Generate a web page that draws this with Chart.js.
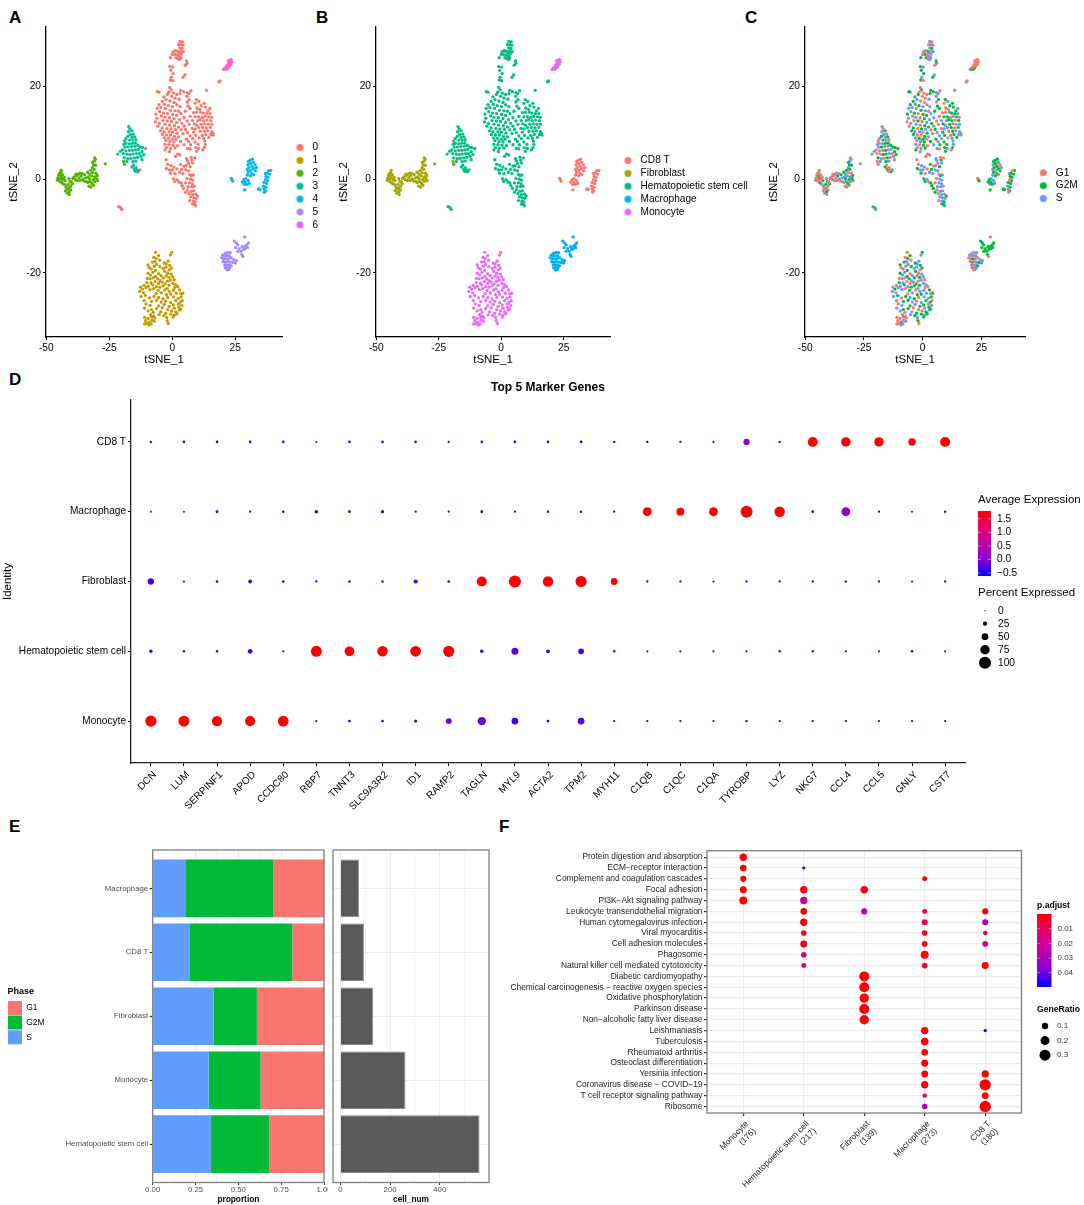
<!DOCTYPE html>
<html><head><meta charset="utf-8">
<style>
html,body{margin:0;padding:0;background:#fff;width:1084px;height:1205px;overflow:hidden}
canvas{position:absolute;display:block}
.tag{position:absolute;font:bold 17px/17px "Liberation Sans",Arial,sans-serif;color:#000}
</style>
<script src="https://cdn.jsdelivr.net/npm/chart.js@4"></script>
</head><body>
<div class="tag" style="left:9px;top:9px">A</div>
<div class="tag" style="left:316px;top:9px">B</div>
<div class="tag" style="left:745px;top:9px">C</div>
<div class="tag" style="left:9px;top:371px">D</div>
<div class="tag" style="left:9px;top:818px">E</div>
<div class="tag" style="left:499px;top:818px">F</div>
<script>
/* ---------- t-SNE embedding ---------- */
const cluster0=[[3,29.7],[4,29.6],[2.5,29],[3.6,29],[4.3,28.9],[3,28.3],[3.9,28.2],[3.3,27.6],[4.4,27.5],[0.4,27.5],[1.2,27.7],[2,27.6],[2.7,27.2],[3.6,27],[0,26.9],[1,26.9],[1.9,26.8],[2.8,26.5],[3.4,26.2],[-0.8,26.2],[1.5,26.2],[2.3,26],[3,25.8],[5.7,25.5],[5.9,25],[5.2,24.6],[-1,24.3],[0.2,24.2],[-0.6,23.5],[0.4,22.8],[-0.4,22],[0.2,21.3],[-0.8,21.4],[5,22.5],[4.3,22],[18.9,21.2],[18.5,21],[13.6,19.2],
[-1,19.8],[-0.4,19.3],[-1.4,18.8],[0.5,18.6],[-5.9,18.9],[-5.3,18.8],[1.8,18.3],[3.4,19.2],[4.5,18.9],[5.9,18.7],[7.4,19.1],[6.6,18.5],[3.1,18.5],[-0.2,17.9],[-1.9,18.3],[-3.3,17.8],[1.1,17.5],[2.7,17.3],[5.8,17.9],[6.7,17.2],[5.9,16.7],[9.6,17.2],[10.6,16.8],[9.1,16.4],[12.7,16.4],[11.5,15.9],[-2.5,17.2],[-0.9,16.9],[0.7,16.6],[-4,16.8],[-3.1,16.2],[-1.6,15.9],[0.1,15.7],[1.8,16.1],[3.1,15.7],[6.3,15.8],[7.1,15.3],[9.8,15.4],[10.9,15.1],[13.1,15.6],[14.9,15.3],[14.1,14.8],
[-5.3,16.1],[-4.5,15.5],[-2.7,15.3],[-0.7,14.9],[1.1,14.8],[2.5,14.7],[-6,15.3],[-5,14.6],[-3.5,14.3],[-1.9,14.2],[0.2,14],[1.7,13.8],[3.5,14.2],[5.1,14.7],[8.5,14.4],[9.7,14.5],[11.3,14.5],[12.3,14.3],[13.7,14.2],[15,14.2],[-6.5,14.1],[-4.3,13.7],[-2.9,13.4],[-1.1,13.3],[0.7,13.1],[2.9,12.9],[4.7,13.3],[7.1,13.6],[9.1,13.5],[10.5,13.5],[11.9,13.4],[13,13.6],[14.5,13.5],[15.6,13.4],[-6.1,13.2],[-3.7,12.7],[-2,12.6],[-0.3,12.5],[1.7,12.3],[3.8,12.1],[5.9,12.6],[8,12.7],[10.1,12.7],[11.1,12.9],[12.4,12.7],[13.8,12.8],[15.3,12.7],
[-6.7,12.4],[-5.1,12.1],[-2.9,11.9],[-1.1,11.7],[0.9,11.6],[2.5,11.3],[4.7,11.5],[6.7,11.9],[8.7,12],[9.7,11.7],[11.5,11.9],[12.9,12],[14.3,11.9],[15.7,11.9],[-5.7,11.5],[-4,11.1],[-2.1,11],[-0.5,10.9],[1.3,10.8],[3.5,10.7],[5.3,10.8],[7.9,11],[9.1,10.9],[10.5,11.2],[12.1,11.2],[13.5,11.1],[15.1,11.2],[-4.7,10.5],[-3.3,10.3],[-1.3,10.3],[0.1,10.2],[1.9,10],[4.3,9.9],[6.1,10.1],[8.5,10.2],[11.1,10.4],[12.7,10.4],[14.1,10.5],[15.7,10.3],[-3.9,9.7],[-2.3,9.6],[-0.7,9.6],[0.9,9.3],[2.5,9.2],[7.1,9.4],[9.3,9.5],[11.9,9.5],[13.3,9.7],[15.3,9.7],[16.1,10],[-3.1,9],[-1.5,8.9],[0.1,8.7],[1.5,8.7],[5.7,8.7],[8.1,8.8],[10.7,9],[12.5,8.9],[14.5,9.1],[16.3,9.6],
[-2.5,8.4],[-0.9,8.2],[0.7,8.1],[3.3,8.2],[6.5,8.2],[9.1,8.1],[12.9,8.3],[-2.9,7.6],[-1.3,7.5],[0.3,7.4],[2.1,7.3],[4.7,7.5],[7.3,7.5],[10.3,7.6],[13.1,7.6],[-2.3,6.9],[-0.7,6.7],[1.1,6.8],[6.1,6.7],[7.1,6.6],[9.3,6.9],[10.5,6.7],[12.7,6.9],[-2.9,6.4],[-1.1,6],[9.7,6.1],[12.1,6.4],[2.1,5.5],[3,5.3],[1.3,5],[7.5,4.8],[8.9,4.7],[5.7,4.5],[-10.6,6.7],[-12.9,2.1],[-20.5,-6],[-21.2,-5.8],[-20,-6.4],
[-2.5,4.3],[6,4.1],[7.8,4.2],[6.5,3.5],[8.1,3.6],[5.5,3],[7.1,2.8],[-1.8,3.3],[-0.5,3],[0.7,2.7],[3.3,3.3],[4.7,2.9],[-2.3,2.4],[-1.1,2.1],[0.1,2.1],[1.9,2.3],[3.7,2.2],[5.3,2.1],[6.5,1.9],[-0.7,1.4],[1.1,1.3],[2.9,1.6],[4.3,1.3],[6.9,1.1],[7.5,0.9],[8.3,1],[0.5,0.2],[1.9,0],[5.9,0.3],[7.3,0.1],[8.1,-0.1],[1,-0.4],[2.6,-0.5],[3.5,-0.7],[6.9,-0.7],[8,-0.9],[5.3,-0.7],[3.9,-1.3],[6.3,-1.5],[7.7,-1.5],[8.7,-1.4],[4.5,-1.9],[6.1,-2.2],[7.5,-2.5],[8.5,-2.4],[5.3,-2.7],[6.7,-3],[8.1,-3.2],[9.3,-3.1],[10,-3.5],[7.3,-3.7],[8.5,-3.9],[9.5,-4],[6.9,-4.5],[8.3,-4.6],[9.1,-4.8],[8,-5.2],[8.8,-5.3],[9.3,-5.6]];
const cluster1=[[-6.6,-15.6],[-0.2,-15.6],[-0.7,-16.2],[-5.4,-16.3],[-6.4,-16.9],[-7.3,-16.7],[-5,-17.3],[-6.8,-17.6],[-7.9,-17.7],[-1.6,-17.5],[-3.2,-17.9],[-2.4,-18.1],[-1,-18.4],[-6.2,-18.2],[-7.2,-18.6],[-9.6,-18.3],[-4.9,-18.7],[-3.6,-19.1],[-2.5,-18.8],[-1.2,-19.4],[-0.3,-19],[-8.3,-19.2],[-9.2,-18.9],[-6.6,-19.5],[-7.7,-19.9],[-3,-19.7],[-1.8,-20.1],[-0.4,-20.3],[-9.6,-20.1],[-8.6,-20.5],[-5.4,-20.2],[-4.4,-20.6],[-6.6,-20.8],[-2.4,-20.7],[-1.3,-21],[0.2,-20.9],[-9.9,-21.2],[-8.8,-21.3],[-7.6,-21.1],[-5.8,-21.3],[-4.8,-21.7],[-3.6,-21.1],[-1.9,-21.8],[-0.7,-21.6],[0.8,-21.5],[-10,-22.1],[-8.4,-22.2],[-6.8,-21.9],[-5.4,-22.3],[-4,-22],[-2.8,-22.4],[-1.3,-22.7],[0.3,-22.3],[1.4,-22.6],[-11.2,-22.7],[-9.5,-22.9],[-7.8,-22.6],[-6.3,-23],[-4.9,-23.1],[-3.6,-22.8],[-2,-23.4],[1,-23.2],[2.2,-23],[-12.6,-23.1],[-11.8,-23.5],[-10.4,-23.2],[-8.8,-23.6],[-7.4,-23.4],[-5.6,-23.8],[-3,-23.7],[-1.2,-24],[0.4,-23.8],[2.9,-23.7],[-12.9,-24],[-11.4,-24.3],[-6.4,-24.5],[-4.4,-24.3],[-2.3,-24.7],[-0.6,-24.6],[1.6,-24.4],[3.4,-24.5],[4.2,-24.4],
[-12.4,-25.1],[-10.6,-24.9],[-9,-25.4],[-7.2,-25.1],[-5.4,-25.3],[-3.6,-25.6],[-1.8,-25.3],[0.6,-25.2],[2.4,-25.5],[3.6,-25.2],[-11.2,-26],[-8.2,-26.2],[-6.2,-25.9],[-4.4,-26.3],[-2.6,-26.1],[-0.6,-26.4],[1.4,-26],[3.2,-26.3],[4,-26],[-10.4,-26.7],[-8.8,-27],[-5.4,-27.1],[-3.2,-26.8],[-1.2,-27.2],[0.4,-26.9],[2.4,-26.7],[3.8,-27],[-11,-27.6],[-8.2,-27.9],[-6.2,-27.7],[-4,-27.5],[-1.8,-27.9],[0.8,-27.6],[2.6,-27.4],[3.4,-27.8],[-9.6,-28.2],[-7.6,-28.5],[-4.6,-28.4],[-2.6,-28.7],[-0.2,-28.2],[1.4,-28.4],[2.8,-28],[-8.6,-29],[-7.4,-29.3],[-5.2,-29],[-3.4,-29.2],[-0.6,-28.9],[0.8,-29.1],[1.9,-28.8],[-11,-29.6],[-9.6,-29.8],[-8.2,-29.5],[-6.9,-29.7],[-2.2,-29.6],[0.4,-29.5],[-10.6,-30.3],[-9.2,-30.6],[-8,-30.2],[-7.2,-30.4],[-2,-30.3],[-11,-31],[-10,-30.9],[-9.2,-31.2],[-8.4,-31],[-1.6,-30.9]];
const cluster2=[[-45.4,0.4],[-45.1,1],[-45.6,-0.1],[-44.9,0.1],[-44.4,0.8],[-44.2,1.5],[-44,2],[-44.6,1.4],[-44.5,-0.4],[-43.9,0.3],[-43.5,1],[-43.9,-0.6],[-43.2,0],[-43.4,-0.9],[-42.8,-1],[-42.5,-0.2],[-42.8,0.5],[-42.2,-1.5],[-42.4,-2.4],[-41.8,-2],[-41.3,-1],[-41.1,-1.8],[-40.9,-2.6],[-41.7,-2.9],[-40.8,-3.2],[-40.3,-1.4],[-40.5,-0.4],[-41,0.2],[-40,-0.5],[-39.6,-0.9],[-40.3,-2.2],[-39.5,0.3],[-38.9,0.6],[-38.4,0],[-38,0.9],[-37.6,-0.2],[-37.2,1.2],[-37,0.4],[-36.5,-0.2],[-36.2,0.8],[-35.8,1.3],[-35.5,0.1],[-35,-0.3],[-34.8,1.1],[-34.3,0.4],[-34.1,-0.4],[-38.2,1.2],[-36.6,1.4],[-33.6,1.6],[-33.4,0.6],[-33.5,-0.6],[-33,-1.4],[-32.9,0.2],[-32.8,1.2],[-32.4,2],[-32.6,-0.4],[-32.3,-1.6],[-32,0.8],[-31.9,-0.8],[-31.7,2.6],[-31.6,1.5],[-31.4,0],[-31.3,-1.2],[-31.2,3.2],[-31,2.2],[-30.8,0.6],[-30.7,-0.4],[-30.5,4.4],[-30.9,4],[-30.3,1.4],[-30.1,0.2],[-29.8,0.9],[-29.6,-0.2],[-31.6,3.7],[-30.4,3.1],[-30.8,4.7],[-26.6,3.4],[-19.3,3.9]];
const cluster3=[[-17.3,11.4],[-16.8,10.9],[-16,10.5],[-17.4,10.3],[-15.4,9.8],[-16.6,9.7],[-14.9,9.2],[-16,9.1],[-17.6,9.3],[-14.4,8.6],[-15.6,8.5],[-16.9,8.5],[-18.4,8.8],[-19,8.3],[-14.6,7.9],[-15.8,7.8],[-17,7.7],[-18.4,7.8],[-19.2,7.6],[-13.6,7.4],[-14.8,7.2],[-16.2,7.1],[-17.6,7],[-18.8,7],[-12.6,7],[-11.8,6.9],[-13.4,6.5],[-14.6,6.4],[-15.8,6.3],[-17,6.3],[-18.4,6.2],[-19.8,6.4],[-20.6,6.1],[-12,6],[-13,5.6],[-14.2,5.6],[-15.6,5.5],[-16.8,5.4],[-18,5.5],[-19.4,5.6],[-21.6,5.5],[-11.3,5.4],[-12.4,5],[-13.8,4.8],[-15,4.7],[-16.4,4.6],[-17.6,4.5],[-19,4.7],[-12,4.3],[-14.4,4],[-15.6,3.9],[-18,3.9],[-19,3.3],[-15.4,3.1],[-16,2.7],[-14.4,2.6],[-15,2.2],[-14,2.1],[-13.2,2],[-14.6,1.8],[-13.6,1.7]];
const cluster4=[[31.8,4.4],[31,4.2],[30.2,3.9],[32.2,3.7],[31,3.5],[30,3.2],[32.9,3.2],[31.6,2.9],[30.4,2.6],[33.4,2.6],[32.2,2.4],[29.8,2.2],[31.2,2],[33,1.9],[30.2,1.6],[31.6,1.3],[29.8,1],[31,0.8],[32.3,1.1],[29.2,0.2],[28.4,0],[30.2,-0.2],[29,-0.6],[27.8,-0.5],[28.6,-1],[29.6,-1],[30.6,-0.8],[28.7,-2.2],[39.1,2],[38.2,1.9],[37.6,1.4],[38.6,1.2],[37.2,0.7],[36.9,1.3],[38,0.5],[37,0],[37.8,-0.2],[36.4,-0.6],[37.4,-0.8],[36.2,-1.4],[37.2,-1.6],[36.4,-2],[37,-2.4],[36.6,-2.7],[34.2,-2],[34.8,-2.1],[23.4,0.3],[23.7,0],[24,-0.3]];
const cluster5=[[21,-15.8],[22,-15.6],[23,-15.7],[20,-16.2],[20.8,-16.4],[21.7,-16.3],[22.6,-16.4],[19.6,-16.8],[20.4,-17],[21.3,-17],[22.3,-17],[23.4,-16.8],[24.4,-17.2],[25.4,-17.4],[20.2,-17.6],[21,-17.7],[22,-17.6],[23,-17.7],[24,-17.8],[25,-17.9],[20.8,-18.3],[21.6,-18.3],[22.6,-18.3],[23.4,-18.5],[21,-18.9],[21.9,-18.9],[22.7,-18.9],[21.7,-19.4],[22.4,-19.3],[24.6,-13.2],[25.4,-13.6],[26,-14],[25.2,-14.6],[26.6,-14.8],[27.8,-14.4],[26,-15.4],[27.2,-15.4],[28.2,-15],[27.6,-16.1],[28,-16.5],[29,-14.3],[29.6,-14],[30.2,-13.6],[29.8,-14.6],[28.9,-14.8]];
const cluster6=[[23.4,25.8],[22.8,25.7],[22.2,25.5],[23.6,25.3],[22.9,25.2],[22.3,24.9],[23.2,24.8],[21.8,24.6],[22.6,24.4],[21.4,24.2],[22.1,24],[20.8,24],[21.5,23.7],[20.4,23.7]];
const strayMacrophage=[[28.8,-12.3]];
/* cell-cycle phase of each listed cell: G = G1, M = G2M, S = S */
const phase0="SGGSGSMGSSGMSSGMGSSMMGSMSGMSMMSGMSMGSSGMGGMSGMMSGSMGMMGSSMGMSGMMSGGMSMSGSMMGGMSMMSGMSGSSMGMMSMGGSMMSMGSGMSSGMMGSMGSGMGSMGSSMMGMGSSGMMSGMSMGSSGMGMSGMGSSMGMMSSGMGSMGMSSMGGMSSMGMGSSMMGMSGSMSGSMMGMSSGMGSMMSGSMSGMSMMSMGGSGGGSMSMSSGSMGSSMGSSMGMSSGMSSMGSSGMSMSGSSMGMSSGMSSGMGSSMGSGMSSSGSMSMSSGSG";
const phase1="GMSMMGGSMSMSMSGMMSSGMSGMSMGSMSGSMGMSGSGMSMGSGMSGGSMMSSGSMSMMSGGSMSSGMGSSMGSGSMMSGMSMGMSMGSSMGMMSGSMMGGSMSMMGSSMMGGSMMSGSMGMSGGSMMSMGGSGSMGMGSMGGSSGGMSGGGS";
const phase2="GGSGMGGSGMGMGSGMGSGGMGMSGGMSGMSGGSGGSGGMGSGMSGGSMSSGMSMSGSMSGMSMMSGSSGMMSMMGSGG";
const phase3="SGMSGSMSMGSMSGMMSGSMSGMSMMSGMSGGSMGSMMGGSMSGMGSMGSMSSGMGMGSGMG";
const phase4="MMMSMSGMMSMSGMMMSMGSMSMMSMSMMGMMMSMGMMMSMGMGMMGMM";
const phase5="SGSSGSSGSMSGSSGMGSMSGSSMSGSGSMMMMMMMMMMGMMMMMMMM";
const phase6="GGGGGGGGGGMGMM";
const phaseStray="G";

/* ---------- Panel D values ---------- */
const genes=["DCN","LUM","SERPINF1","APOD","CCDC80","RBP7","TNNT3","SLC9A3R2","ID1","RAMP2","TAGLN","MYL9","ACTA2","TPM2","MYH11","C1QB","C1QC","C1QA","TYROBP","LYZ","NKG7","CCL4","CCL5","GNLY","CST7"];
const identities=["Monocyte","Hematopoietic stem cell","Fibroblast","Macrophage","CD8 T"];
const pctMonocyte=[93,90,85,82,88,6,10,10,16,42,65,50,12,50,6,7,6,5,8,7,7,7,6,6,5];
const pctHSC=[18,8,8,30,6,90,78,85,88,92,18,52,20,40,8,6,6,6,6,8,8,7,7,9,6];
const pctFibroblast=[45,6,11,22,11,7,9,8,25,10,82,100,85,92,50,7,7,6,7,7,7,7,7,6,7];
const pctMacrophage=[5,4,13,7,9,18,12,16,7,6,13,6,8,9,7,70,60,70,100,85,12,70,7,5,8];
const pctCD8=[8,10,10,11,9,4,10,10,9,7,9,9,10,11,8,8,7,6,45,8,80,75,75,56,80];
const expMonocyte=[1.79,1.79,1.79,1.79,1.79,-.45,-.45,-.45,-.4,-.1,-.15,-.3,-.45,-.25,-.45,-.45,-.45,-.45,-.45,-.45,-.45,-.45,-.45,-.45,-.45];
const expHSC=[-.4,-.45,-.45,-.35,-.45,1.79,1.79,1.79,1.79,1.79,-.4,-.2,-.4,-.3,-.45,-.45,-.45,-.45,-.45,-.45,-.45,-.45,-.45,-.45,-.45];
const expFibroblast=[-.3,-.45,-.45,-.35,-.45,-.45,-.45,-.45,-.35,-.45,1.79,1.79,1.79,1.79,1.79,-.45,-.45,-.45,-.45,-.45,-.45,-.45,-.45,-.45,-.45];
const expMacrophage=[-.45,-.45,-.45,-.45,-.45,-.4,-.45,-.4,-.45,-.45,-.45,-.45,-.45,-.45,-.45,1.79,1.79,1.79,1.79,1.79,-.4,.1,-.45,-.45,-.45];
const expCD8=[-.45,-.45,-.45,-.45,-.45,-.45,-.45,-.45,-.45,-.45,-.45,-.45,-.45,-.45,-.45,-.45,-.45,-.45,0,-.45,1.79,1.79,1.79,1.79,1.79];

/* ---------- Panel E values ---------- */
const phaseTypes=["Macrophage","CD8 T","Fibroblast","Monocyte","Hematopoietic stem cell"];
const propS=[.19,.217,.355,.327,.34];
const propG2M=[.515,.598,.253,.303,.34];
const propG1=[.295,.185,.392,.37,.32];
const cellNum=[75,95,132,262,560];

/* ---------- Panel F values: [pathway index, GeneRatio, p.adjust] ---------- */
const pathways=["Protein digestion and absorption","ECM\u2212receptor interaction","Complement and coagulation cascades","Focal adhesion","PI3K\u2212Akt signaling pathway","Leukocyte transendothelial migration","Human cytomegalovirus infection","Viral myocarditis","Cell adhesion molecules","Phagosome","Natural killer cell mediated cytotoxicity","Diabetic cardiomyopathy","Chemical carcinogenesis \u2212 reactive oxygen species","Oxidative phosphorylation","Parkinson disease","Non\u2212alcoholic fatty liver disease","Leishmaniasis","Tuberculosis","Rheumatoid arthritis","Osteoclast differentiation","Yersinia infection","Coronavirus disease \u2212 COVID\u221219","T cell receptor signaling pathway","Ribosome"];
const enrichGroups=[["Monocyte","(176)"],["Hematopoietic stem cell","(217)"],["Fibroblast","(139)"],["Macrophage","(273)"],["CD8 T","(180)"]];
const hitsMonocyte=[[0,.135,.0004],[1,.107,.0004],[2,.09,.0004],[3,.12,.0004],[4,.158,.0004]];
const hitsHSC=[[1,.02,.0495],[3,.135,.001],[4,.135,.022],[5,.107,.002],[6,.135,.002],[7,.077,.002],[8,.12,.002],[9,.077,.02],[10,.06,.019]];
const hitsFibroblast=[[3,.135,.0004],[5,.09,.026],[11,.25,.0004],[12,.25,.0004],[13,.22,.0004],[14,.25,.0004],[15,.22,.0004]];
const hitsMacrophage=[[2,.06,.002],[5,.06,.006],[6,.09,.009],[7,.077,.003],[8,.077,.004],[9,.158,.0008],[10,.077,.002],[16,.135,.0006],[17,.142,.0005],[18,.114,.0005],[19,.12,.0005],[20,.114,.0006],[21,.135,.0007],[22,.046,.01],[23,.077,.028]];
const hitsCD8=[[5,.09,.002],[6,.09,.03],[7,.05,.004],[8,.077,.017],[10,.12,.001],[16,.027,.048],[20,.128,.0006],[21,.32,.0004],[22,.107,.0006],[23,.32,.0004]];

/* ---------- Tick values ---------- */
const tsneXTicks=[-50,-25,0,25];
const tsneYTicks=[-20,0,20];
const propTicks=[0,.125,.25,.375,.5,.625,.75,.875,1];
const cellTicks=[0,100,200,300,400,500];

/* ---------- Colours ---------- */
const hueCluster=["#F8766D","#C49A00","#53B400","#00C094","#00B6EB","#A58AFF","#FB61D7"];
const hueType={"CD8 T":"#F8766D","Fibroblast":"#A3A500","Hematopoietic stem cell":"#00BF7D","Macrophage":"#00B0F6","Monocyte":"#E76BF3"};
const huePhase={G1:"#F8766D",G2M:"#00BA38",S:"#619CFF"};
const ramp=[[0,[0,0,255]],[.25,[138,0,212]],[.5,[188,0,168]],[.75,[226,0,112]],[1,[255,0,0]]];

function rampColor(t){
  t=Math.max(0,Math.min(1,t));
  for(let i=1;i<ramp.length;i++){
    if(t<=ramp[i][0]){
      const a=ramp[i-1],b=ramp[i],k=(t-a[0])/(b[0]-a[0]);
      return 'rgb('+a[1].map((c,j)=>Math.round(c+(b[1][j]-c)*k)).join(',')+')';
    }
  }
  return 'rgb(255,0,0)';
}
const FONT='"Liberation Sans",Arial,sans-serif';
Chart.defaults.font.family=FONT;
Chart.defaults.color='#000';
Chart.defaults.animation=false;
Chart.defaults.plugins.tooltip.enabled=false;

/* ---------- helpers ---------- */
const pin=vals=>s=>{s.ticks=vals.map(v=>({value:v}));};
const dotCache={};
function dotImage(color,r){
  const k=color+r; if(dotCache[k])return dotCache[k];
  const c=document.createElement('canvas');c.width=c.height=Math.ceil(2*r+2);
  const g=c.getContext('2d');g.fillStyle=color;g.beginPath();g.arc(c.width/2,c.height/2,r,0,Math.PI*2);g.fill();
  return dotCache[k]=c;
}
function mount(box,area,cfg){
  const [bx,by,bw,bh]=box,[l,t,r,b]=area;
  const cv=document.createElement('canvas');
  cv.width=bw;cv.height=bh;cv.style.left=bx+'px';cv.style.top=by+'px';cv.style.width=bw+'px';cv.style.height=bh+'px';
  if(cfg.paper)cv.style.background=cfg.paper;
  document.body.appendChild(cv);
  const o=cfg.options=cfg.options||{};
  o.responsive=false;o.maintainAspectRatio=false;o.devicePixelRatio=1;o.events=[];
  const titleH=cfg.titleSpace||0;
  o.layout={padding:{left:0,top:t-by-titleH,right:bx+bw-r,bottom:0}};
  o.scales.x.afterFit=s=>{s.height=by+bh-b;s.paddingLeft=0;s.paddingRight=0;};
  o.scales.y.afterFit=s=>{s.width=l-bx;s.paddingTop=0;s.paddingBottom=0;};
  cfg.plugins=(cfg.plugins||[]);
  return new Chart(cv,cfg);
}
const placeLegend=(box,x,y)=>({id:'placeLegend',afterLayout(c){
  const L=c.legend;if(!L)return;
  L.left=x-box[0];L.top=y-box[1];L.right=L.left+L.width;L.bottom=L.top+L.height;L.adjustHitBoxes();
}});
const frame=(color,w)=>({id:'frame',afterDatasetsDraw(c){
  const a=c.chartArea,g=c.ctx;g.save();g.strokeStyle=color;g.lineWidth=w;
  g.strokeRect(a.left,a.top,a.right-a.left,a.bottom-a.top);g.restore();
}});
function label(g,txt,x,y,font,color,align){
  g.font=font;g.fillStyle=color||'#000';g.textAlign=align||'left';g.textBaseline='middle';g.fillText(txt,x,y);
}
function colorBar(g,s){
  const grad=g.createLinearGradient(0,s.y+s.h,0,s.y);
  ramp.forEach(p=>grad.addColorStop(p[0],rampColor(p[0])));
  g.fillStyle=grad;g.fillRect(s.x,s.y,s.w,s.h);
  g.strokeStyle='rgba(255,255,255,.75)';g.lineWidth=.6;
  s.ticks.forEach(v=>{
    const y=s.y+(s.top-v)/(s.top-s.bottom)*s.h;
    g.beginPath();g.moveTo(s.x,y);g.lineTo(s.x+3,y);g.moveTo(s.x+s.w-3,y);g.lineTo(s.x+s.w,y);g.stroke();
    label(g,s.fmt(v),s.x+s.w+s.gap,y,s.font,s.color);
  });
}
const guide=(box,fn)=>({id:'guide',afterDraw(c){
  const g=c.ctx;g.save();g.translate(-box[0],-box[1]);fn(g);g.restore();
}});

/* ---------- Panels A, B, C ---------- */
const XDOM=[-50.1,43.55],YDOM=[-33.8,32.8];
function tsneChart(box,area,sets,legendX,legendTop,titlePad){
  const cfg={type:'scatter',
    data:{datasets:sets.map(d=>({label:d.label,data:d.pts.map(p=>({x:p[0],y:p[1]})),backgroundColor:d.color,borderWidth:0,pointRadius:1.65,pointHoverRadius:1.65}))},
    plugins:[placeLegend(box,legendX-10.3,legendTop)],
    options:{
      plugins:{title:{display:false},legend:{display:true,position:'chartArea',align:'start',
        labels:{usePointStyle:true,pointStyleWidth:15,padding:2.8,font:{size:10.1,lineHeight:1.2},
          generateLabels:c=>c.data.datasets.map((d,i)=>({text:d.label,pointStyle:dotImage(d.backgroundColor,3.5),datasetIndex:i,fillStyle:d.backgroundColor,strokeStyle:'transparent',lineWidth:0,hidden:false}))}}},
      scales:{
        x:{type:'linear',min:XDOM[0],max:XDOM[1],afterBuildTicks:pin(tsneXTicks),
          ticks:{font:{size:10.2},color:'#000',padding:2,callback:v=>String(v),maxRotation:0,autoSkip:false},
          grid:{drawOnChartArea:false,drawTicks:true,tickLength:3,tickColor:'#000',tickWidth:1},
          border:{display:true,color:'#000',width:1.3},
          title:{display:true,text:'tSNE_1',font:{size:11.5},color:'#000',padding:{top:0,bottom:0}}},
        y:{type:'linear',min:YDOM[0],max:YDOM[1],afterBuildTicks:pin(tsneYTicks),
          ticks:{font:{size:10.2},color:'#000',padding:2,callback:v=>String(v),autoSkip:false},
          grid:{drawOnChartArea:false,drawTicks:true,tickLength:3,tickColor:'#000',tickWidth:1},
          border:{display:true,color:'#000',width:1.3},
          title:{display:true,text:'tSNE_2',font:{size:11.5},color:'#000',padding:{top:titlePad,bottom:0}}}
      }}};
  return mount(box,area,cfg);
}
tsneChart([0,20,345,347],[46,27,282,337],
  [cluster0.concat(strayMacrophage),cluster1,cluster2,cluster3,cluster4,cluster5,cluster6].map((pts,i)=>({label:String(i),pts,color:hueCluster[i]})),
  300,139.6,7);
tsneChart([330,20,425,347],[376,27,610,337],[
  {label:'CD8 T',pts:cluster4},
  {label:'Fibroblast',pts:cluster2},
  {label:'Hematopoietic stem cell',pts:cluster0.concat(cluster3)},
  {label:'Macrophage',pts:cluster5.concat(strayMacrophage)},
  {label:'Monocyte',pts:cluster1.concat(cluster6)}].map(d=>({...d,color:hueType[d.label]})),
  628,152.6,6.5);
const allCells=[[cluster0,phase0],[cluster1,phase1],[cluster2,phase2],[cluster3,phase3],[cluster4,phase4],[cluster5,phase5],[cluster6,phase6],[strayMacrophage,phaseStray]];
const byPhase=ch=>allCells.flatMap(([pts,str])=>pts.filter((p,i)=>str.charAt(i%str.length)===ch));
tsneChart([760,20,324,347],[805,27,1025,337],[
  {label:'G1',pts:byPhase('G')},{label:'G2M',pts:byPhase('M')},{label:'S',pts:byPhase('S')}
  ].map(d=>({...d,color:huePhase[d.label]})),
  1043.3,164.9,7);

/* ---------- Panel D ---------- */
const pctRows=[pctMonocyte,pctHSC,pctFibroblast,pctMacrophage,pctCD8];
const expRows=[expMonocyte,expHSC,expFibroblast,expMacrophage,expCD8];
const pctRadius=p=>.8+5.2*p/100;
const EXP_TOP=1.79,EXP_BOT=-.61;
const expColor=v=>rampColor((v-EXP_BOT)/(EXP_TOP-EXP_BOT));
const dotData=pctRows.flatMap((row,i)=>row.map((p,j)=>({x:j,y:i,r:pctRadius(p),v:expRows[i][j]})));
const boxD=[0,375,1084,440];
mount(boxD,[131,400,965,763],{type:'bubble',titleSpace:25,
  data:{datasets:[{label:'Percent Expressed',data:dotData,backgroundColor:c=>expColor(c.raw?c.raw.v:0),borderWidth:0}]},
  plugins:[guide(boxD,g=>{
    const t='11.5px '+FONT,s='10.2px '+FONT;
    label(g,'Average Expression',978,500,t);
    colorBar(g,{x:978,y:511,w:13,h:65,top:EXP_TOP,bottom:EXP_BOT,ticks:[1.5,1,.5,0,-.5],fmt:v=>(v<0?'\u2212':'')+Math.abs(v).toFixed(1),gap:6,font:s,color:'#000'});
    label(g,'Percent Expressed',978,593,t);
    [0,25,50,75,100].forEach((p,i)=>{
      const y=610.7+13*i;
      g.fillStyle='#000';g.beginPath();g.arc(985,y,p===0?.6:pctRadius(p),0,Math.PI*2);g.fill();
      label(g,String(p),998,y,s);
    });
  })],
  options:{
    plugins:{legend:{display:false},
      title:{display:true,text:'Top 5 Marker Genes',fullSize:false,font:{size:12,weight:'bold',lineHeight:1.2},color:'#000',padding:{top:5,bottom:5.6}}},
    scales:{
      x:{type:'linear',min:-.6,max:24.6,afterBuildTicks:pin(genes.map((g,i)=>i)),
        ticks:{font:{size:10},color:'#000',padding:3,autoSkip:false,minRotation:45,maxRotation:45,labelOffset:4,callback:v=>genes[v]},
        grid:{drawOnChartArea:false,tickLength:3,tickColor:'#000'},border:{display:true,color:'#222',width:1.3}},
      y:{type:'linear',min:-.6,max:4.6,afterBuildTicks:pin(identities.map((g,i)=>i)),
        ticks:{font:{size:10.1},color:'#000',padding:2,autoSkip:false,callback:v=>identities[v]},
        grid:{drawOnChartArea:false,tickLength:3,tickColor:'#000'},border:{display:true,color:'#222',width:1.3},
        title:{display:true,text:'Identity',font:{size:11.5},color:'#000',padding:{top:1,bottom:0}}}
    }}});

/* ---------- Panel E ---------- */
const toBars=vals=>vals.map((v,i)=>({x:v,y:i}));
const boxE1=[0,845,328,360],boxE2=[328,845,164,360];
const majorMinor=(test)=>({
  color:c=>'#ebebeb',
  lineWidth:c=>test(c.tick&&c.tick.value)?1:.5,
  tickColor:c=>test(c.tick&&c.tick.value)?'#333':'rgba(0,0,0,0)',
  tickLength:2.5,drawTicks:true});
const isQuarter=v=>Math.abs(v*4-Math.round(v*4))<1e-6;
mount(boxE1,[152.7,850,324,1182.5],{type:'bar',
  data:{datasets:[
    {label:'S',data:toBars(propS),backgroundColor:huePhase.S},
    {label:'G2M',data:toBars(propG2M),backgroundColor:huePhase.G2M},
    {label:'G1',data:toBars(propG1),backgroundColor:huePhase.G1}]},
  plugins:[placeLegend(boxE1,7.4,986.6),frame('#7f7f7f',1.3)],
  options:{indexAxis:'y',
    datasets:{bar:{barPercentage:.9,categoryPercentage:1,borderWidth:0}},
    plugins:{legend:{display:true,position:'chartArea',align:'start',reverse:true,
      title:{display:true,text:'Phase',position:'start',color:'#000',font:{size:9,weight:'bold',lineHeight:1.2},padding:{top:0,bottom:3}},
      labels:{boxWidth:14,boxHeight:14,padding:.6,font:{size:8.5}}}},
    scales:{
      x:{type:'linear',stacked:true,min:0,max:1,afterBuildTicks:pin(propTicks),
        ticks:{font:{size:7.8},color:'#4d4d4d',padding:.5,autoSkip:false,maxRotation:0,callback:v=>isQuarter(v)?v.toFixed(2):''},
        grid:majorMinor(isQuarter),border:{display:false},
        title:{display:true,text:'proportion',font:{size:8.3,weight:'bold',lineHeight:1.2},color:'#000',padding:{top:0,bottom:.7}}},
      y:{type:'linear',offset:false,stacked:true,reverse:true,min:-.6,max:4.6,afterBuildTicks:pin(phaseTypes.map((g,i)=>i)),
        ticks:{font:{size:7.8},color:'#4d4d4d',padding:1.5,autoSkip:false,callback:v=>phaseTypes[v]},
        grid:{offset:false,color:'#ebebeb',tickLength:3,tickColor:'#333',tickWidth:1.2},border:{display:false}}
    }}});
const isHundredMajor=v=>v%200===0;
mount(boxE2,[333,850,489,1182.5],{type:'bar',paper:'#fff',
  data:{datasets:[{label:'cell_num',data:toBars(cellNum),backgroundColor:'#595959',borderColor:'#8c8c8c',borderWidth:1}]},
  plugins:[frame('#7f7f7f',1.3)],
  options:{indexAxis:'y',
    datasets:{bar:{barPercentage:.9,categoryPercentage:1}},
    plugins:{legend:{display:false}},
    scales:{
      x:{type:'linear',min:-29.4,max:598,afterBuildTicks:pin(cellTicks),
        ticks:{font:{size:7.8},color:'#4d4d4d',padding:.5,autoSkip:false,maxRotation:0,callback:v=>isHundredMajor(v)?String(v):''},
        grid:majorMinor(isHundredMajor),border:{display:false},
        title:{display:true,text:'cell_num',font:{size:8.3,weight:'bold',lineHeight:1.2},color:'#000',padding:{top:0,bottom:.7}}},
      y:{type:'linear',offset:false,reverse:true,min:-.6,max:4.6,afterBuildTicks:pin(phaseTypes.map((g,i)=>i)),
        ticks:{display:false},
        grid:{offset:false,color:'#ebebeb',drawTicks:false},border:{display:false}}
    }}});

/* ---------- Panel F ---------- */
const ratioRadius=g=>Math.sqrt(.2+100*g);
const P_BOTTOM=.0497;
const padjColor=p=>rampColor(1-p/P_BOTTOM);
const enrichData=[hitsMonocyte,hitsHSC,hitsFibroblast,hitsMacrophage,hitsCD8].flatMap((hits,col)=>hits.map(h=>({x:col,y:h[0],r:ratioRadius(h[1]),p:h[2]})));
const boxF=[490,845,594,360];
mount(boxF,[707,850,1021.5,1113],{type:'bubble',
  data:{datasets:[{label:'GeneRatio',data:enrichData,backgroundColor:c=>padjColor(c.raw?c.raw.p:0),borderWidth:0}]},
  plugins:[frame('#7f7f7f',1.3),guide(boxF,g=>{
    const t='bold 8.6px '+FONT,s='8px '+FONT;
    label(g,'p.adjust',1037,905.7,t);
    colorBar(g,{x:1037,y:914,w:14.5,h:73,top:0,bottom:P_BOTTOM,ticks:[.01,.02,.03,.04],fmt:v=>v.toFixed(2),gap:6,font:s,color:'#333'});
    label(g,'GeneRatio',1037,1009.7,t);
    [.1,.2,.3].forEach((v,i)=>{
      const y=1026+14.6*i;
      g.fillStyle='#000';g.beginPath();g.arc(1045,y,ratioRadius(v),0,Math.PI*2);g.fill();
      label(g,v.toFixed(1),1057,y,s,'#333');
    });
  })],
  options:{
    plugins:{legend:{display:false}},
    scales:{
      x:{type:'linear',min:-.6,max:4.6,afterBuildTicks:pin(enrichGroups.map((g,i)=>i)),
        ticks:{font:{size:8.5},color:'#222',padding:3,autoSkip:false,minRotation:45,maxRotation:45,labelOffset:4,callback:v=>enrichGroups[v]},
        grid:{color:'#ebebeb',lineWidth:1.2,tickLength:3,tickColor:'#333'},border:{display:false}},
      y:{type:'linear',reverse:true,min:-.6,max:23.6,afterBuildTicks:pin(pathways.map((g,i)=>i)),
        ticks:{font:{size:8.4},color:'#222',padding:1.5,autoSkip:false,callback:v=>pathways[v]},
        grid:{color:'#ebebeb',lineWidth:1.2,tickLength:3,tickColor:'#333'},border:{display:false}}
    }}});
</script>
</body></html>
